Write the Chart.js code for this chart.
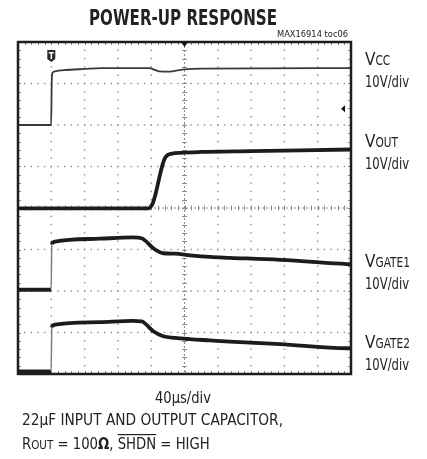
<!DOCTYPE html>
<html>
<head>
<meta charset="utf-8">
<title>Power-up response</title>
<script src="https://cdn.jsdelivr.net/npm/chart.js"></script>
<style>
  html, body { margin: 0; padding: 0; background: #fff; }
  #wrap { position: relative; width: 427px; height: 459px; }
</style>
</head>
<body>
<div id="wrap"><canvas id="scope" width="427" height="459"></canvas></div>
<script>
// time in µs (40µs/div, 10 div); level in screen divisions (0 = bottom, 8 = top)
const vccTime  = [0, 39.8, 40.6, 41.5, 44, 55, 80, 100, 158, 164, 170, 180, 190, 200, 220, 400];
const vccLevel = [6.0, 6.0, 7.1, 7.26, 7.29, 7.32, 7.35, 7.37, 7.37, 7.33, 7.29, 7.285, 7.31, 7.34, 7.36, 7.37];

const voutTime  = [0, 156, 159, 162, 165, 168.5, 171.5, 174.5, 177, 180, 185, 195, 220, 280, 340, 400];
const voutLevel = [3.99, 3.99, 4.02, 4.12, 4.32, 4.62, 4.88, 5.1, 5.22, 5.28, 5.31, 5.33, 5.35, 5.37, 5.39, 5.41];

const gate1Time  = [0, 39.8, 40.6, 42, 44.4, 98.5, 138, 148.6, 152.5, 162.5, 174.4, 188.6, 206.6, 230.6, 254.7, 314.8, 395, 400];
const gate1Level = [2.03, 2.03, 3.12, 3.17, 3.19, 3.26, 3.29, 3.27, 3.22, 3.03, 2.91, 2.9, 2.86, 2.82, 2.8, 2.75, 2.65, 2.645];

const gate2Time  = [0, 39.8, 40.6, 42, 44.4, 98.5, 138, 148.6, 152.5, 162.5, 174.4, 188.6, 206.6, 230.6, 254.7, 314.8, 395, 400];
const gate2Level = [0.06, 0.06, 1.12, 1.17, 1.19, 1.25, 1.28, 1.27, 1.22, 1.03, 0.91, 0.87, 0.84, 0.81, 0.78, 0.72, 0.62, 0.62];

const xGrid = [40, 80, 120, 160, 240, 280, 320, 360];
const yGrid = [1, 2, 3, 5, 6, 7];
const xCenter = 200, yCenter = 4;
const triggerTime = 40, levelMarker = 6.39;

const FONT = "'Liberation Sans Narrow', 'DejaVu Sans Condensed', 'Arial Narrow', sans-serif";

function pts(t, v) { return t.map((x, i) => ({ x, y: v[i] })); }

// fast edges look thin and pale on the scope
const edge = {
  borderWidth: c => (c.p1.parsed.x - c.p0.parsed.x < 1.2 ? 1.4 : undefined),
  borderColor: c => (c.p1.parsed.x - c.p0.parsed.x < 1.2 ? '#7a7a7a' : undefined)
};

// draws text squeezed horizontally by sx (or fitted to fitW); returns drawn width
function txt(ctx, s, x, y, size, o = {}) {
  ctx.font = (o.bold ? 'bold ' : '') + size + 'px ' + FONT;
  const w = ctx.measureText(s).width;
  const sx = o.fitW ? o.fitW / w : (o.sx || 1);
  let x0 = x;
  if (o.align === 'center') x0 = x - w * sx / 2;
  if (o.align === 'right') x0 = x - w * sx;
  ctx.save();
  ctx.translate(x0, y);
  ctx.scale(sx, 1);
  ctx.fillText(s, 0, 0);
  ctx.restore();
  return w * sx;
}

function label(ctx, sub, x, y) {
  const w = txt(ctx, 'V', x, y, 18.5, { sx: 0.92 });
  txt(ctx, sub, x + w, y, 14, { sx: 0.84 });
  txt(ctx, '10V/div', x, y + 22, 16, { fitW: 44 });
}

const scopeFrame = {
  id: 'scopeFrame',
  beforeDatasetsDraw(chart) {
    const { ctx, chartArea: a, scales: { x, y } } = chart;
    ctx.save();
    ctx.fillStyle = '#8c8c8c';
    // dotted grid
    xGrid.forEach(t => {
      const px = x.getPixelForValue(t);
      for (let d = 0.2; d < 8; d += 0.2) ctx.fillRect(px - 0.7, y.getPixelForValue(d) - 0.7, 1.4, 1.4);
    });
    yGrid.forEach(d => {
      const py = y.getPixelForValue(d);
      for (let t = 8; t < 400; t += 8) ctx.fillRect(x.getPixelForValue(t) - 0.7, py - 0.7, 1.4, 1.4);
    });
    // centre crosshair with minor ticks
    const cx = x.getPixelForValue(xCenter), cy = y.getPixelForValue(yCenter);
    ctx.strokeStyle = '#8c8c8c';
    ctx.lineWidth = 1;
    ctx.setLineDash([2, 2]);
    ctx.beginPath();
    ctx.moveTo(cx, a.top); ctx.lineTo(cx, a.bottom);
    ctx.moveTo(a.left, cy); ctx.lineTo(a.right, cy);
    ctx.stroke();
    ctx.setLineDash([]);
    ctx.beginPath();
    for (let d = 0.2; d < 8; d += 0.2) {
      const py = Math.round(y.getPixelForValue(d)) + 0.5;
      ctx.moveTo(cx - 2.5, py); ctx.lineTo(cx + 2.5, py);
      ctx.moveTo(a.left, py); ctx.lineTo(a.left + 3, py);
      ctx.moveTo(a.right, py); ctx.lineTo(a.right - 3, py);
    }
    for (let t = 8; t < 400; t += 8) {
      const px = Math.round(x.getPixelForValue(t)) + 0.5;
      ctx.moveTo(px, cy - 2.5); ctx.lineTo(px, cy + 2.5);
      ctx.moveTo(px, a.top); ctx.lineTo(px, a.top + 3);
      ctx.moveTo(px, a.bottom); ctx.lineTo(px, a.bottom - 3);
    }
    ctx.stroke();
    ctx.restore();
  },
  afterDatasetsDraw(chart) {
    const { ctx, chartArea: a, scales: { x, y } } = chart;
    ctx.save();
    ctx.strokeStyle = '#1e1e1e';
    ctx.lineWidth = 2.5;
    ctx.strokeRect(a.left, a.top, a.right - a.left, a.bottom - a.top);
    // top centre marker
    const cx = x.getPixelForValue(xCenter);
    ctx.fillStyle = '#111';
    ctx.beginPath();
    ctx.moveTo(cx - 3.5, a.top); ctx.lineTo(cx + 3.5, a.top); ctx.lineTo(cx, a.top + 5);
    ctx.closePath(); ctx.fill();
    // level marker on the right
    const my = y.getPixelForValue(levelMarker);
    ctx.beginPath();
    ctx.moveTo(a.right - 10, my); ctx.lineTo(a.right - 6, my - 3.5); ctx.lineTo(a.right - 6, my + 3.5);
    ctx.closePath(); ctx.fill();
    // trigger marker
    const tx = x.getPixelForValue(triggerTime);
    ctx.fillStyle = '#2a2a2a';
    ctx.beginPath();
    ctx.moveTo(tx - 4, a.top + 8);
    ctx.lineTo(tx + 4, a.top + 8);
    ctx.lineTo(tx + 4, a.top + 17);
    ctx.lineTo(tx, a.top + 20);
    ctx.lineTo(tx - 4, a.top + 17);
    ctx.closePath(); ctx.fill();
    ctx.fillStyle = '#fff';
    ctx.fillRect(tx - 2.5, a.top + 10, 5, 1.5);
    ctx.fillRect(tx - 0.75, a.top + 10, 1.5, 7);
    ctx.restore();
  },
  afterDraw(chart) {
    const { ctx } = chart;
    ctx.save();
    ctx.fillStyle = '#222';
    ctx.textBaseline = 'alphabetic';
    txt(ctx, 'POWER-UP RESPONSE', 183, 25, 21, { bold: true, align: 'center', fitW: 188 });
    txt(ctx, 'MAX16914 toc06', 348, 37, 9.5, { align: 'right', fitW: 71 });
    label(ctx, 'CC', 365, 65);
    label(ctx, 'OUT', 365, 147);
    label(ctx, 'GATE1', 365, 267);
    label(ctx, 'GATE2', 365, 348);
    txt(ctx, '40µs/div', 183, 403, 16, { align: 'center', fitW: 56 });
    txt(ctx, '22µF INPUT AND OUTPUT CAPACITOR,', 22, 425, 16, { fitW: 261 });
    const sx = 0.92;
    let px = 22;
    px += txt(ctx, 'R', px, 449, 16, { sx });
    px += txt(ctx, 'OUT', px, 449, 12.5, { sx });
    px += txt(ctx, ' = 100', px, 449, 16, { sx });
    px += txt(ctx, 'Ω', px, 449, 16, { sx, bold: true });
    px += txt(ctx, ', ', px, 449, 16, { sx });
    const w = txt(ctx, 'SHDN', px, 449, 16, { sx });
    ctx.fillRect(px, 434, w, 1.2);
    px += w;
    txt(ctx, ' = HIGH', px, 449, 16, { sx });
    ctx.restore();
  }
};

new Chart(document.getElementById('scope'), {
  type: 'line',
  data: {
    datasets: [
      { label: 'VCC', data: pts(vccTime, vccLevel), borderColor: '#3a3a3a', borderWidth: 1.8 },
      { label: 'VOUT', data: pts(voutTime, voutLevel), borderColor: '#1c1c1c', borderWidth: 3.8, segment: edge },
      { label: 'VGATE1', data: pts(gate1Time, gate1Level), borderColor: '#1c1c1c', borderWidth: 3.8, segment: edge },
      { label: 'VGATE2', data: pts(gate2Time, gate2Level), borderColor: '#1c1c1c', borderWidth: 3.8, segment: edge }
    ]
  },
  options: {
    responsive: false,
    animation: false,
    layout: { padding: { left: 18, right: 76, top: 42, bottom: 85 } },
    elements: { point: { radius: 0 }, line: { cubicInterpolationMode: 'monotone' } },
    scales: {
      x: { type: 'linear', min: 0, max: 400, display: false },
      y: { type: 'linear', min: 0, max: 8, display: false }
    },
    plugins: { legend: { display: false }, tooltip: { enabled: false } }
  },
  plugins: [scopeFrame]
});
</script>
</body>
</html>
